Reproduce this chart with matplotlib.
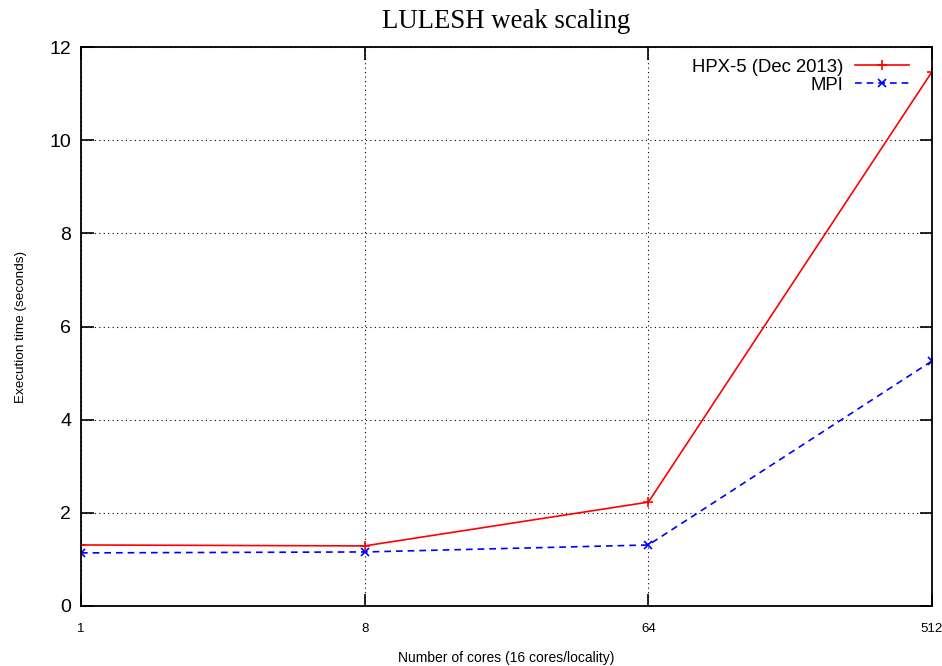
import matplotlib
matplotlib.use("Agg")
import matplotlib.pyplot as plt
from matplotlib.ticker import FixedLocator, NullLocator

# cores used in each run (16 cores per locality)
cores = [1, 8, 64, 512]
core_labels = ["1", "8", "64", "512"]

# execution time in seconds
hpx5_time = [1.31, 1.29, 2.23, 11.47]
mpi_time = [1.14, 1.16, 1.31, 5.26]

plt.rcParams['font.family'] = ['Liberation Sans', 'DejaVu Sans']

fig = plt.figure(figsize=(9.42, 6.66), dpi=100)
ax = fig.add_axes([0.086, 0.0901, 0.9034, 0.8393])

ax.plot(cores, hpx5_time, color="red", linestyle="-", linewidth=1.2,
        marker="+", markersize=7, markeredgewidth=1.2, label="HPX-5 (Dec 2013)")
ax.plot(cores, mpi_time, color="blue", linestyle=(0, (4, 3)), linewidth=1.2,
        marker="x", markersize=6, markeredgewidth=1.2, label="MPI")

ax.set_xscale("log", base=2)
ax.set_xlim(1, 512)
ax.set_ylim(0, 12)
ax.xaxis.set_major_locator(FixedLocator(cores))
ax.xaxis.set_minor_locator(NullLocator())
ax.set_xticklabels(core_labels)
ax.set_yticks(range(0, 13, 2))

ax.grid(True, color="black", linestyle=(0, (1, 3)), linewidth=0.8)
ax.tick_params(direction="in", length=9, width=1.2, top=True, right=True)
ax.tick_params(axis="x", labelsize=9.5, pad=12.5)
ax.tick_params(axis="y", labelsize=14, pad=7)
for s in ax.spines.values():
    s.set_linewidth(1.3)

ax.set_xlabel("Number of cores (16 cores/locality)", fontsize=10, labelpad=11)
ax.set_ylabel("Execution time (seconds)", fontsize=9.7, labelpad=16)
ax.set_title("LULESH weak scaling", fontsize=19.3, family="Liberation Serif", pad=14)

ax.legend(loc="upper right", frameon=False, markerfirst=False, fontsize=13.3,
          handlelength=2.9, handletextpad=0.65, labelspacing=0.05,
          borderpad=0, borderaxespad=0, bbox_to_anchor=(0.973, 0.979))

fig.savefig("out.png", dpi=100)
